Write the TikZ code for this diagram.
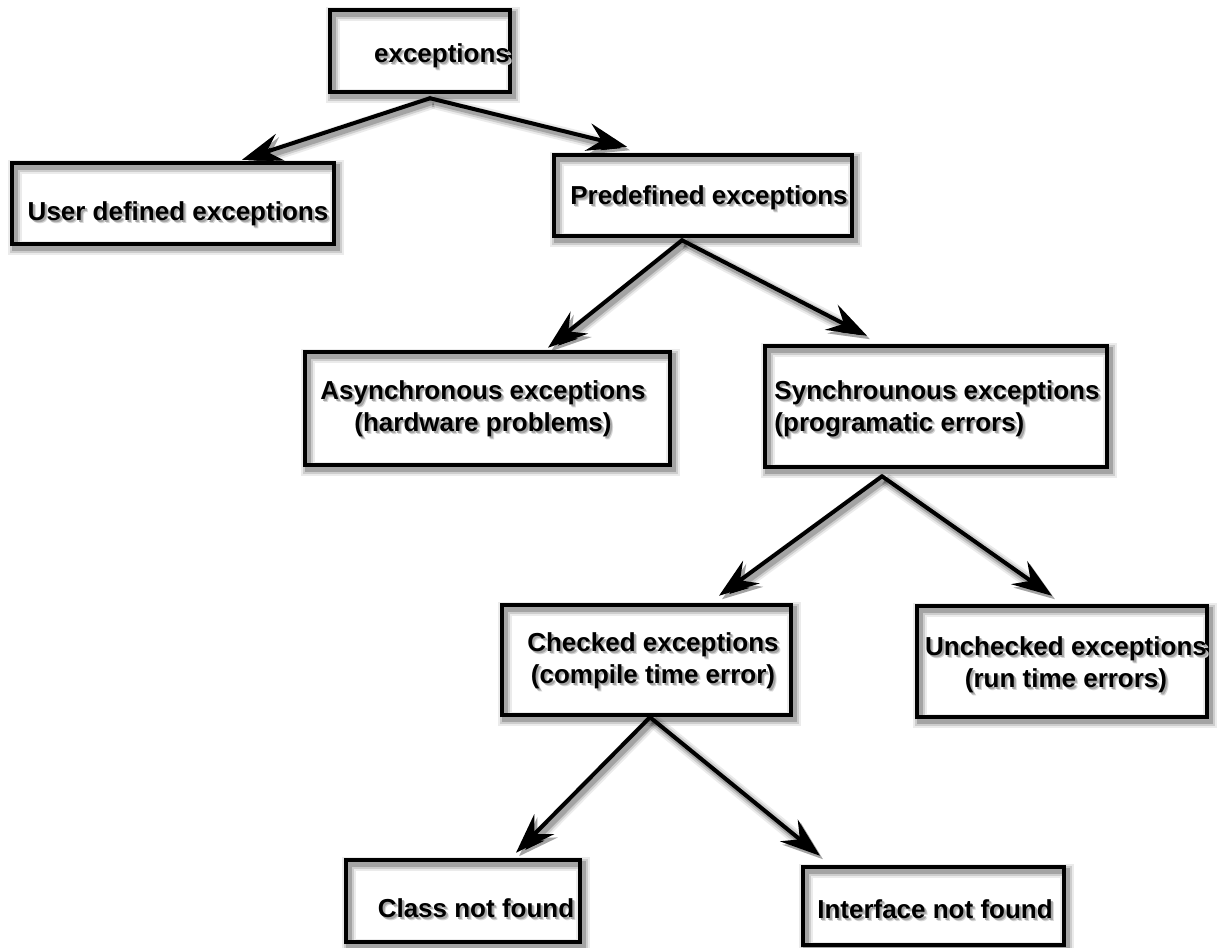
\documentclass[tikz,border=0pt]{standalone}
\usepackage{fontspec}
\setmainfont{Liberation Sans}
\usetikzlibrary{arrows.meta}

% text with a soft grey drop shadow
\newcommand\shd[1]{\leavevmode\rlap{\kern3pt\raisebox{-3pt}{\color{black!16}#1}}\rlap{\kern2pt\raisebox{-2pt}{\color{black!35}#1}}#1}
% content moved by (#1 right, #2 down) from the centre of its box
\newcommand\placed[3]{\makebox[0pt]{\hspace*{#1}\hspace*{#1}\raisebox{-#2}[\height][\depth]{#3}}}
\newcommand\twolines[3]{\begin{tabular}{@{}#1@{}}\shd{#2}\\\shd{#3}\end{tabular}}

\tikzset{
  softshade/.style={
    preaction={draw=black, draw opacity=0.08, line width=14pt, transform canvas={shift={(3pt,-3.5pt)}}},
    preaction={draw=black, draw opacity=0.13, line width=10pt, transform canvas={shift={(3pt,-3.5pt)}}},
    preaction={draw=black, draw opacity=0.20, line width=6pt, transform canvas={shift={(3pt,-3.5pt)}}}
  },
  box/.style={draw=black, line width=4.5pt, rectangle, inner sep=0pt, softshade,
    font=\bfseries\fontsize{26}{31.5}\selectfont},
  link/.style={draw=black, line width=4pt, line cap=round, line join=round,
    -{Stealth[length=40pt, width=28pt, inset=14pt]}, softshade}
}

\begin{document}
\begin{tikzpicture}[x=1pt, y=-1pt]
\useasboundingbox (0,0) rectangle (1224,948);

% boxes with their texts
\node[box, minimum width=180pt, minimum height=82pt]  (ex) at (420,51)
  {\placed{22pt}{6pt}{\shd{exceptions}}};
\node[box, minimum width=322pt, minimum height=81pt]  (ud) at (173,203.5)
  {\placed{5pt}{11.5pt}{\shd{User defined exceptions}}};
\node[box, minimum width=298pt, minimum height=81pt]  (pd) at (703,195.5)
  {\placed{6pt}{3.5pt}{\shd{Predefined exceptions}}};
\node[box, minimum width=365pt, minimum height=113pt] (as) at (487.5,408.5)
  {\placed{-4.5pt}{0.5pt}{\twolines{c}{Asynchronous exceptions}{(hardware problems)}}};
\node[box, minimum width=342pt, minimum height=121pt] (sy) at (936,406.5)
  {\placed{1pt}{2.5pt}{\twolines{l}{Synchrounous exceptions}{(programatic errors)}}};
\node[box, minimum width=289pt, minimum height=110pt] (ch) at (646.5,660)
  {\placed{6.5pt}{1pt}{\twolines{c}{Checked exceptions}{(compile time error)}}};
\node[box, minimum width=290pt, minimum height=111pt] (un) at (1062,661.5)
  {\placed{4pt}{3.5pt}{\twolines{c}{Unchecked exceptions}{(run time errors)}}};
\node[box, minimum width=234pt, minimum height=82pt]  (cl) at (463,901)
  {\placed{13pt}{9pt}{\shd{Class not found}}};
\node[box, minimum width=261pt, minimum height=78pt]  (if) at (933.5,906)
  {\placed{1.5pt}{5pt}{\shd{Interface not found}}};

% connectors
\draw[link] ([xshift=10pt,yshift=-4pt]ex.south) -- ([xshift=69pt,yshift=1pt]ud.north);
\draw[link] ([xshift=10pt,yshift=-4pt]ex.south) -- ([xshift=-76pt,yshift=6pt]pd.north);
\draw[link] ([xshift=-21pt,yshift=-2pt]pd.south) -- ([xshift=60.5pt,yshift=2pt]as.north);
\draw[link] ([xshift=-21pt,yshift=-2pt]pd.south) -- ([xshift=-69pt,yshift=8pt]sy.north);
\draw[link] ([xshift=-54pt,yshift=-7pt]sy.south) -- ([xshift=72.5pt,yshift=7pt]ch.north);
\draw[link] ([xshift=-54pt,yshift=-7pt]sy.south) -- ([xshift=-10pt,yshift=8pt]un.north);
\draw[link] ([xshift=3.5pt,yshift=0pt]ch.south) -- ([xshift=53pt,yshift=5pt]cl.north);
\draw[link] ([xshift=3.5pt,yshift=0pt]ch.south) -- ([xshift=-113.5pt,yshift=9pt]if.north);
\end{tikzpicture}
\end{document}
